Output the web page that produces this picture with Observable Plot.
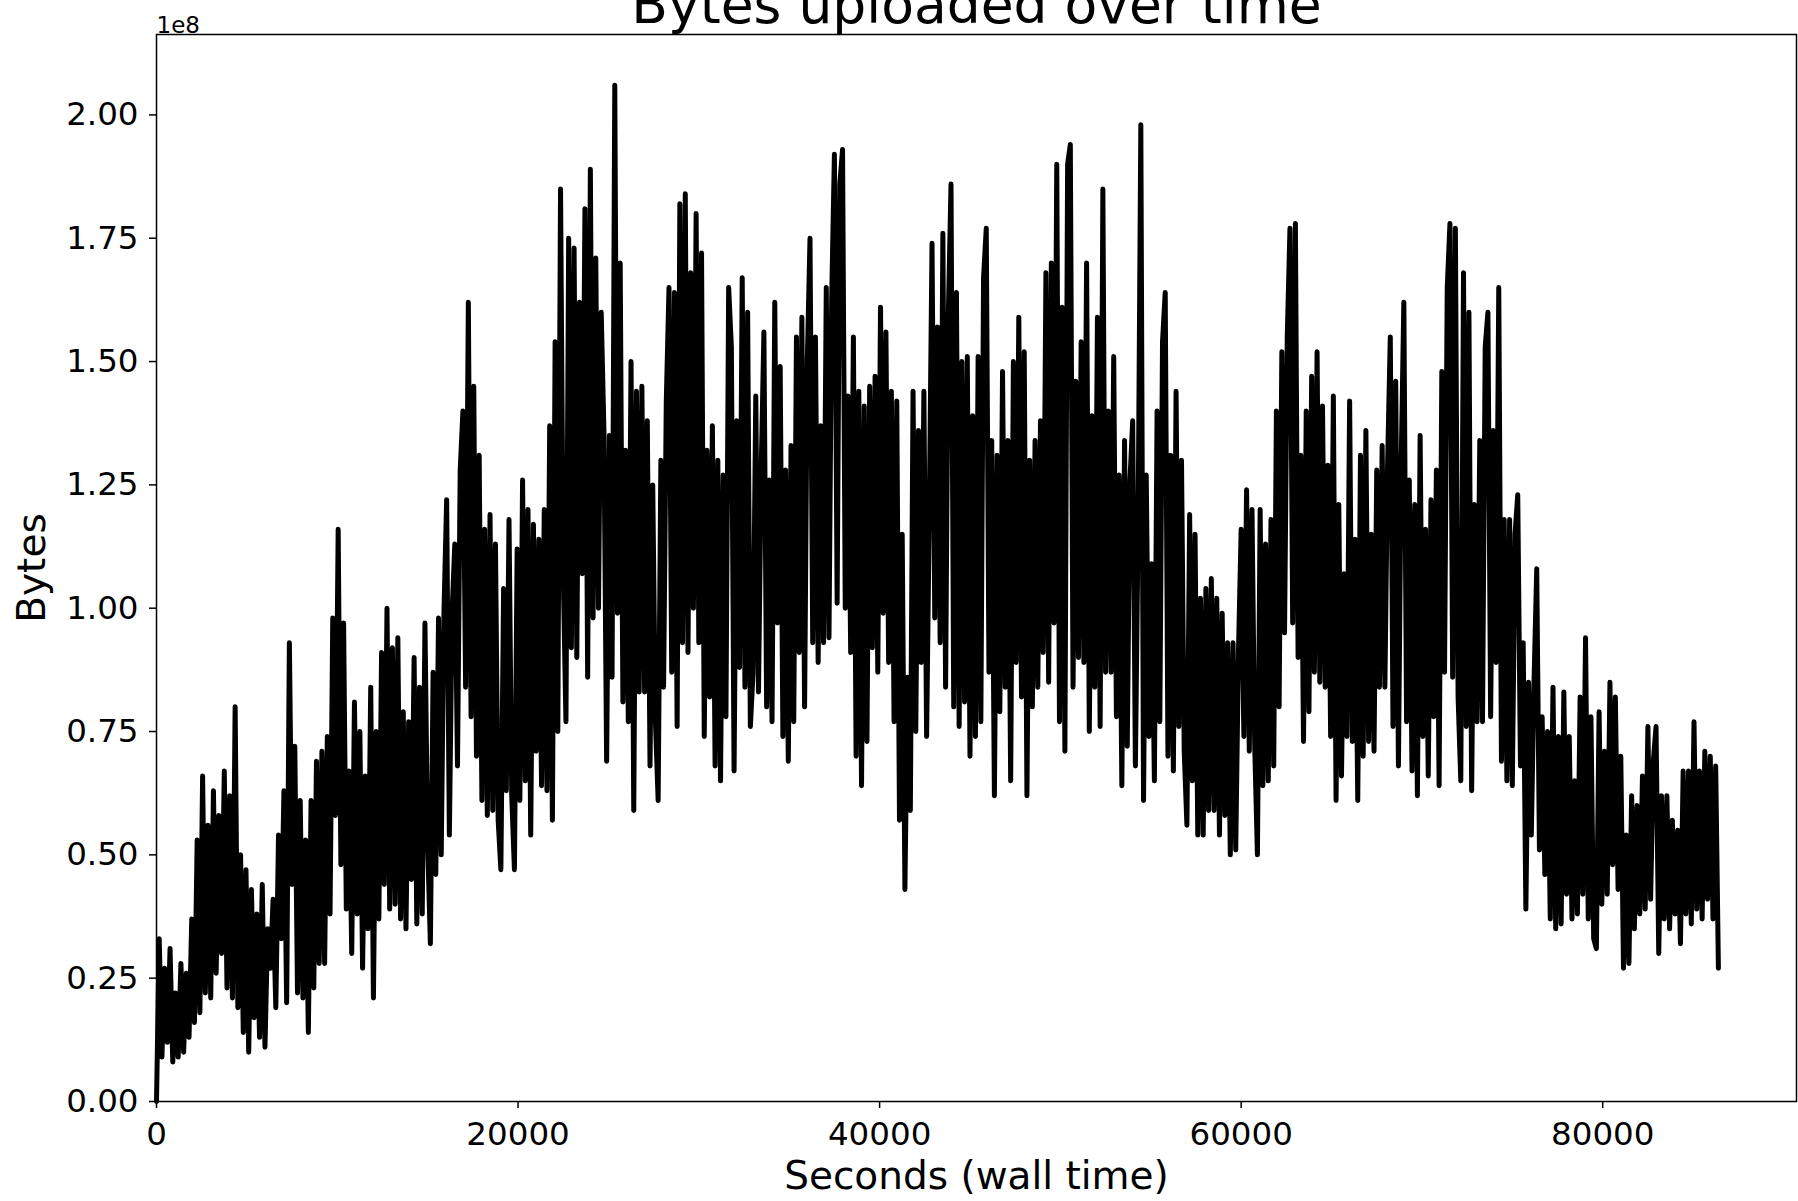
<!DOCTYPE html>
<html>
<head>
<meta charset="utf-8">
<script src="https://cdn.jsdelivr.net/npm/d3@7"></script>
<script src="https://cdn.jsdelivr.net/npm/@observablehq/plot@0.6"></script>
<style>
  html, body { margin: 0; padding: 0; background: #fff; }
  #chart { width: 1798px; height: 1201px; overflow: hidden; }
  #chart svg g[aria-label$="tick"] path { stroke-width: 1.5px; }
</style>
</head>
<body>
<div id="chart"></div>
<script>
// ---- texts ----
const titleText = "Bytes uploaded over time";
const xLabel = "Seconds (wall time)";
const yLabel = "Bytes";
const offsetLabel = "1e8";

// ---- axes ----
const xTicks = [0, 20000, 40000, 60000, 80000];
const yTicks = [0, 0.25e8, 0.5e8, 0.75e8, 1.0e8, 1.25e8, 1.5e8, 1.75e8, 2.0e8];
const xDomain = [0, 90720];
const yDomain = [0, 2.163e8];

// ---- series: sampling interval (s) and bytes (in units of 1e8) ----
const sampleStep = 150;
const bytesE8 = [
  // 0 - 2850 s
  0.00,0.33,0.09,0.27,0.12,0.31,0.08,0.22,0.09,0.28,0.10,0.26,0.13,0.37,0.16,0.53,0.18,0.66,0.22,0.56,
  // 3000 - 5850 s
  0.21,0.63,0.26,0.58,0.30,0.67,0.23,0.62,0.21,0.80,0.19,0.50,0.14,0.47,0.10,0.43,0.17,0.38,0.13,0.44,
  // 6000 - 8850 s
  0.11,0.35,0.27,0.41,0.19,0.54,0.33,0.63,0.20,0.93,0.44,0.72,0.22,0.61,0.21,0.53,0.14,0.61,0.23,0.69,
  // 9000 - 11850 s
  0.28,0.71,0.28,0.74,0.38,0.98,0.58,1.16,0.48,0.97,0.39,0.67,0.30,0.81,0.38,0.75,0.27,0.66,0.35,0.84,
  // 12000 - 14850 s
  0.21,0.75,0.37,0.91,0.44,1.00,0.39,0.92,0.40,0.94,0.37,0.79,0.35,0.77,0.45,0.90,0.36,0.84,0.38,0.97,
  // 15000 - 17850 s
  0.52,0.32,0.87,0.46,0.98,0.50,0.99,1.22,0.54,0.99,1.13,0.68,1.28,1.40,0.84,1.62,0.78,1.45,0.70,1.31,
  // 18000 - 20850 s
  0.61,1.16,0.58,1.19,0.59,1.13,0.57,0.47,1.04,0.63,1.18,0.62,0.47,1.12,0.61,1.26,0.65,1.20,0.54,1.17,
  // 21000 - 23850 s
  0.71,1.14,0.64,1.20,0.63,1.37,0.57,1.54,0.75,1.85,1.07,0.77,1.75,0.92,1.73,0.90,1.62,1.07,1.81,0.86,
  // 24000 - 26850 s
  1.89,0.98,1.71,1.00,1.60,1.36,0.69,1.35,0.86,2.06,0.99,1.70,0.81,1.32,0.77,1.50,0.59,1.44,0.83,1.45,
  // 27000 - 29850 s
  0.83,1.38,0.68,1.25,0.77,0.61,1.30,0.84,1.42,1.65,0.87,1.64,0.76,1.82,0.93,1.84,0.91,1.68,1.00,1.80,
  // 30000 - 32850 s
  0.93,1.72,0.74,1.32,0.82,1.37,0.68,1.30,0.65,1.27,0.78,1.65,1.53,0.67,1.38,0.88,1.67,0.84,1.60,0.76,
  // 33000 - 35850 s
  0.87,1.43,0.83,1.28,1.56,0.80,1.26,0.77,1.62,0.97,1.49,0.74,1.28,0.69,1.33,0.77,1.55,0.91,1.59,0.80,
  // 36000 - 38850 s
  1.50,1.75,0.93,1.55,0.89,1.37,0.93,1.65,0.94,1.63,1.92,1.01,1.86,1.93,1.00,1.43,0.91,1.55,0.70,1.44,
  // 39000 - 41850 s
  0.64,1.41,0.73,1.45,0.92,1.47,0.87,1.61,0.99,1.56,0.89,1.44,0.77,1.42,0.57,1.15,0.43,0.86,0.59,1.44,
  // 42000 - 44850 s
  0.75,1.36,0.89,1.44,0.74,1.20,1.74,0.98,1.57,0.93,1.76,0.84,1.59,1.86,0.80,1.64,0.76,1.50,0.81,1.51,
  // 45000 - 47850 s
  0.70,1.39,0.74,1.51,0.77,1.67,1.77,0.87,1.34,0.62,1.31,0.79,1.48,0.84,1.34,0.65,1.50,0.89,1.59,0.82,
  // 48000 - 50850 s
  1.52,0.62,1.30,0.80,1.34,0.84,1.38,0.91,1.68,0.85,1.70,0.97,1.90,0.77,1.61,0.71,1.90,1.94,0.84,1.46,
  // 51000 - 53850 s
  0.90,1.54,0.89,1.70,0.75,1.39,0.84,1.59,0.76,1.85,0.87,1.40,0.87,1.51,0.78,1.27,0.64,1.34,0.72,1.26,
  // 54000 - 56850 s
  1.38,0.68,1.17,1.98,0.61,1.27,0.74,1.09,0.65,1.40,0.77,1.54,1.64,0.70,1.31,0.67,1.44,0.76,1.30,0.71,
  // 57000 - 59850 s
  0.56,1.19,0.65,1.15,0.54,1.02,0.54,1.04,0.59,1.06,0.59,1.02,0.54,0.99,0.58,0.93,0.50,0.93,0.51,0.91,
  // 60000 - 62850 s
  1.16,0.74,1.24,0.71,1.20,0.72,0.50,1.20,0.64,1.13,0.65,1.18,0.68,1.40,0.80,1.52,0.95,1.55,1.77,0.97,
  // 63000 - 65850 s
  1.78,0.90,1.31,0.73,1.40,0.79,1.47,0.87,1.52,0.85,1.41,0.84,1.29,0.74,1.43,0.61,1.21,0.66,1.07,0.74,
  // 66000 - 68850 s
  1.42,0.73,1.14,0.61,1.31,0.70,1.36,0.73,1.15,0.71,1.28,0.84,1.33,0.84,1.29,1.55,0.76,1.46,0.68,1.29,
  // 69000 - 71850 s
  1.62,0.77,1.26,0.67,1.21,0.62,1.35,0.74,1.16,0.66,1.22,0.78,1.28,0.64,1.48,0.87,1.65,1.78,0.86,1.77,
  // 72000 - 74850 s
  0.82,0.65,1.68,0.76,1.60,0.63,1.21,0.77,1.34,0.77,1.53,1.60,0.78,1.36,0.89,1.65,0.69,1.18,0.65,1.18,
  // 75000 - 77850 s
  0.64,1.15,1.23,0.68,0.93,0.39,0.85,0.54,0.85,1.08,0.51,0.78,0.46,0.75,0.37,0.84,0.35,0.74,0.36,0.83,
  // 78000 - 80850 s
  0.42,0.74,0.37,0.65,0.38,0.82,0.42,0.94,0.37,0.78,0.33,0.31,0.79,0.40,0.71,0.42,0.85,0.48,0.82,0.43,
  // 81000 - 83850 s
  0.70,0.27,0.54,0.28,0.62,0.35,0.60,0.38,0.66,0.39,0.76,0.41,0.69,0.76,0.30,0.62,0.37,0.62,0.35,0.57,
  // 84000 - 86400 s
  0.38,0.55,0.32,0.67,0.38,0.67,0.36,0.77,0.39,0.67,0.37,0.71,0.41,0.70,0.37,0.68,0.27
];

const data = bytesE8.map((v, i) => ({seconds: i * sampleStep, bytes: v * 1e8}));

const chart = Plot.plot({
  width: 1798,
  height: 1201,
  marginTop: 34,
  marginRight: 2,
  marginBottom: 100,
  marginLeft: 156,
  style: {
    fontFamily: '"DejaVu Sans", sans-serif',
    fontSize: "32.5px",
    color: "#000",
    background: "#fff",
    overflow: "visible"
  },
  x: {domain: xDomain, ticks: xTicks, tickFormat: d => String(d), tickSize: 7, tickPadding: 13, label: null},
  y: {domain: yDomain, ticks: yTicks, tickFormat: d => (d / 1e8).toFixed(2), tickSize: 7, tickPadding: 11, label: null},
  marks: [
    Plot.line(data, {x: "seconds", y: "bytes", stroke: "#000", strokeWidth: 5, strokeLinejoin: "round", strokeLinecap: "round"}),
    Plot.frame({stroke: "#000", strokeWidth: 1.5}),
    Plot.text([titleText], {text: d => d, frameAnchor: "top", textAnchor: "middle", lineAnchor: "bottom", dy: -12, fontSize: 53.5}),
    Plot.text([offsetLabel], {text: d => d, frameAnchor: "top-left", textAnchor: "start", lineAnchor: "bottom", dy: -1.5, fontSize: 23}),
    Plot.text([xLabel], {text: d => d, frameAnchor: "bottom", textAnchor: "middle", lineAnchor: "middle", dy: 75.5, fontSize: 39}),
    Plot.text([yLabel], {text: d => d, frameAnchor: "left", textAnchor: "middle", lineAnchor: "middle", rotate: -90, dx: -124, fontSize: 39})
  ]
});
document.getElementById("chart").appendChild(chart);
</script>
</body>
</html>
